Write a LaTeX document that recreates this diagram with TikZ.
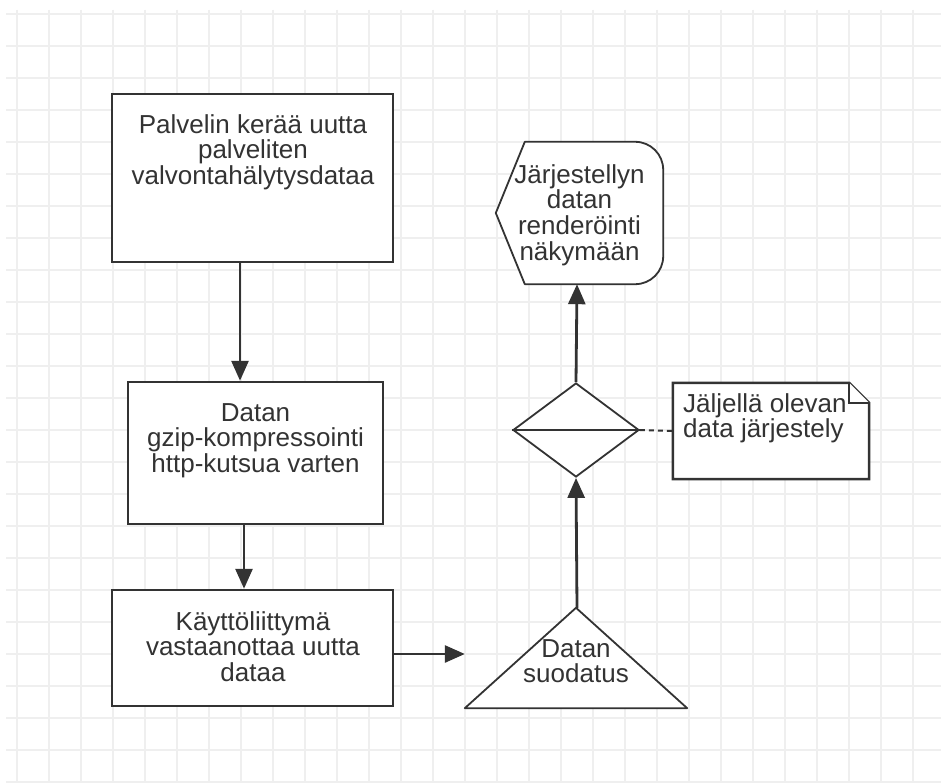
\documentclass[tikz,border=0pt]{standalone}
\usepackage{fontspec}
\setmainfont{Liberation Sans}
\usetikzlibrary{arrows.meta,shapes.geometric}
\definecolor{gridgray}{HTML}{EFEFEF}
\definecolor{ink}{HTML}{333333}

\begin{document}
\begin{tikzpicture}[x=1pt,y=-1pt,
	gridline/.style={gridgray,line width=1.8pt},
	box/.style={draw=ink,line width=2.5pt,fill=white,inner sep=0pt},
	hidden/.style={inner sep=0pt},
	txt/.style={text=ink,align=center,inner sep=0pt,font=\fontsize{26pt}{25.8pt}\selectfont},
	flow/.style={draw=ink,line width=2.8pt,-{Triangle[length=20pt,width=17pt]}},
	thin/.style={draw=ink,line width=1.8pt,line join=round}]
	\def\g{32}	%grid spacing
	
	%BACKGROUND GRID
	\fill[white] (0,0) rectangle (941,783);
	\useasboundingbox (0,0) rectangle (941,783);
	\foreach \i in {0,...,28}{
		\draw[gridline] ({17+\g*\i},10)--({17+\g*\i},783);
	}
	\foreach \j in {0,...,24}{
		\draw[gridline] (6,{14+\g*\j})--(941,{14+\g*\j});
	}
	
	%LEFT COLUMN
	\node[box,minimum width=281pt,minimum height=168pt] (collect) at (252.5,178) {};
	\node[box,minimum width=255pt,minimum height=142pt] (compress) at (255.5,453) {};
	\node[box,minimum width=281pt,minimum height=116pt] (receive) at (252.5,648) {};
	\node[txt,anchor=north] (collect-txt) at (253,114) {Palvelin kerää uutta\\palveliten\\valvontahälytysdataa};
	\node[txt,anchor=north] (compress-txt) at (255.5,403) {Datan\\gzip-kompressointi\\http-kutsua varten};
	\node[txt,anchor=north] (receive-txt) at (253,611) {Käyttöliittymä\\vastaanottaa uutta\\dataa};
	
	%RIGHT COLUMN
	\node[hidden,minimum width=222pt,minimum height=100pt] (filter) at (576,658) {};
	\draw[thin,fill=white] (filter.south west)--(filter.north)--(filter.south east)--cycle;
	\node[txt,anchor=north] (filter-txt) at (576,639) {Datan\\suodatus};
	%
	\node[diamond,draw=ink,line width=1.8pt,fill=white,minimum width=126pt,minimum height=94pt,inner sep=0pt] (sort) at (576,430) {};
	\draw[thin] (sort.west)--(sort.east);
	%
	\node[hidden,minimum width=167pt,minimum height=142pt] (render) at (579.5,213) {};
	\draw[thin,fill=white] (render.west)--([xshift=29pt]render.north west) [rounded corners=28pt]--(render.north east)--(render.south east) [sharp corners]--([xshift=29pt]render.south west)--cycle;
	\node[txt,anchor=north] (render-txt) at (579.5,164) {Järjestellyn\\datan\\renderöinti\\näkymään};
	%
	\node[hidden,minimum width=196pt,minimum height=96pt] (note) at (771,431) {};
	\draw[box] (note.north west)--([xshift=-20pt]note.north east)--([yshift=-20pt]note.north east)--(note.south east)--(note.south west)--cycle;
	\draw[box,line width=2pt] ([xshift=-20pt]note.north east)--([xshift=-20pt,yshift=-20pt]note.north east)--([yshift=-20pt]note.north east);
	\node[txt,align=left,anchor=north west] (note-txt) at (683,393) {Jäljellä olevan\\data järjestely};
	
	%CONNECTORS
	\draw[flow] ([xshift=-12.5pt]collect.south)--([xshift=-15.5pt]compress.north);
	\draw[flow] ([xshift=-11.5pt]compress.south)--([xshift=-8.5pt]receive.north);
	\draw[flow] ([yshift=-6pt]receive.east)--([yshift=4pt]filter.west);
	\draw[flow] ([xshift=1pt]filter.north)--(sort.south);
	\draw[flow] (sort.north)--([xshift=-2.5pt]render.south);
	\draw[ink,line width=2pt,dash pattern=on 5pt off 4pt] (sort.east)--(note.west);
\end{tikzpicture}
\end{document}
